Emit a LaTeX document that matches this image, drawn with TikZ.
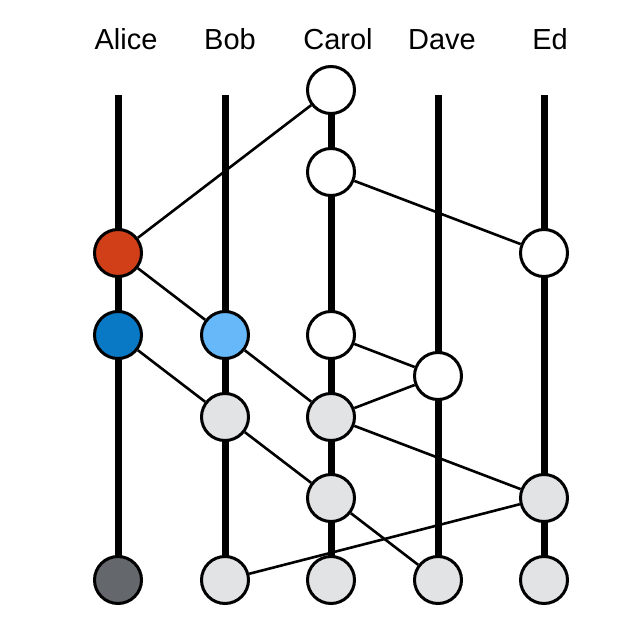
\documentclass[tikz,border=0pt]{standalone}
\usepackage{fontspec}
\setmainfont{Liberation Sans}
\definecolor{evred}{HTML}{D13F19}
\definecolor{evblue}{HTML}{0A79C5}
\definecolor{evlblue}{HTML}{66B8F8}
\definecolor{evgray}{HTML}{E2E3E5}
\definecolor{evdark}{HTML}{64676C}
\begin{document}
\begin{tikzpicture}[x=1pt,y=-1pt,
  ev/.style={circle,draw=black,line width=3pt,minimum size=47pt,inner sep=0pt,fill=#1},
  ev/.default=white,
  life/.style={line width=7pt},
  msg/.style={line width=2.6pt},
  lbl/.style={anchor=base,font=\fontsize{29}{32}\selectfont,inner sep=0pt}]
\useasboundingbox (0,0) rectangle (638,642);
% labels
\node[lbl] (lA) at (126,49) {Alice};
\node[lbl] (lB) at (230,49) {Bob};
\node[lbl] (lC) at (338,49) {Carol};
\node[lbl] (lD) at (442,49) {Dave};
\node[lbl] (lE) at (550,49) {Ed};
% top coordinates
\coordinate (tA) at (118,95);
\coordinate (tB) at (225,95);
\coordinate (tD) at (438,95);
\coordinate (tE) at (544,95);
% bottom nodes positions
\coordinate (pA) at (118,580);
\coordinate (pB) at (225,580);
\coordinate (pC) at (331,580);
\coordinate (pD) at (438,580);
\coordinate (pE) at (544,580);
\coordinate (pC1) at (331,90);
% lifelines
\draw[life] (tA) -- (pA);
\draw[life] (tB) -- (pB);
\draw[life] (pC1) -- (pC);
\draw[life] (tD) -- (pD);
\draw[life] (tE) -- (pE);
% events
\node[ev] (c1) at (pC1) {};
\node[ev] (c2) at (331,172) {};
\node[ev] (e1) at (544,253) {};
\node[ev=evred] (a1) at (118,253) {};
\node[ev=evblue] (a2) at (118,335) {};
\node[ev=evlblue] (b1) at (225,335) {};
\node[ev] (c3) at (331,335) {};
\node[ev] (d1) at (438,376) {};
\node[ev=evgray] (b2) at (225,417) {};
\node[ev=evgray] (c4) at (331,417) {};
\node[ev=evgray] (c5) at (331,498) {};
\node[ev=evgray] (e2) at (544,498) {};
\node[ev=evdark] (a3) at (pA) {};
\node[ev=evgray] (b3) at (pB) {};
\node[ev=evgray] (c6) at (pC) {};
\node[ev=evgray] (d2) at (pD) {};
\node[ev=evgray] (e3) at (pE) {};
% messages
\draw[msg] (c1) -- (a1);
\draw[msg] (c2) -- (e1);
\draw[msg] (a1) -- (b1);
\draw[msg] (b1) -- (c4);
\draw[msg] (a2) -- (b2);
\draw[msg] (c3) -- (d1);
\draw[msg] (d1) -- (c4);
\draw[msg] (c4) -- (e2);
\draw[msg] (b2) -- (c5);
\draw[msg] (c5) -- (d2);
\draw[msg] (e2) -- (b3);
\end{tikzpicture}
\end{document}
